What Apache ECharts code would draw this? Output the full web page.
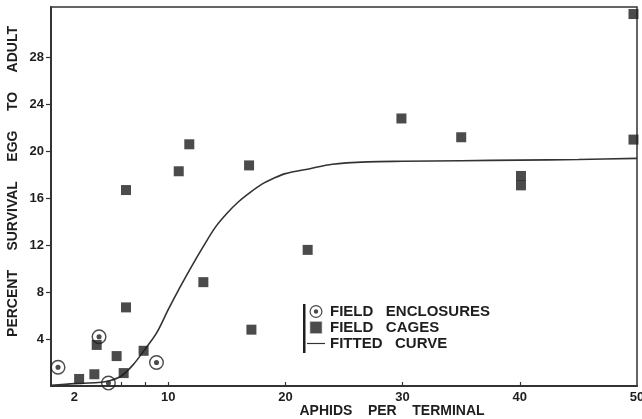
<!DOCTYPE html>
<html>
<head>
<meta charset="utf-8">
<script src="https://cdn.jsdelivr.net/npm/echarts/dist/echarts.min.js"></script>
<style>
  html, body { margin: 0; padding: 0; background: #fff; }
  #chart { width: 642px; height: 419px; }
</style>
</head>
<body>
<div id="chart"></div>
<script>
// Field cages (squares)
const cagesX = [2.4, 3.7, 3.9, 5.6, 6.2, 6.4, 6.4, 7.9, 10.9, 11.8, 13.0, 16.9, 17.1, 21.9, 29.9, 35.0, 40.1, 40.1, 49.7, 49.7];
const cagesY = [0.6, 1.0, 3.5, 2.55, 1.1, 6.7, 16.7, 3.0, 18.3, 20.6, 8.85, 18.8, 4.8, 11.6, 22.8, 21.2, 17.9, 17.1, 31.7, 21.0];

// Field enclosures (ringed dots)
const enclosuresX = [0.6, 4.1, 4.9, 9.0];
const enclosuresY = [1.6, 4.2, 0.25, 2.0];

// Fitted curve
const curveX = [0, 2, 4, 5, 6, 7, 8, 9, 10, 11, 12, 13, 14, 15, 16, 17, 18, 19, 20, 22, 24, 27, 30, 35, 40, 45, 50];
const curveY = [0.05, 0.2, 0.3, 0.45, 0.85, 1.8, 3.1, 4.5, 6.5, 8.4, 10.2, 11.9, 13.5, 14.7, 15.7, 16.5, 17.2, 17.7, 18.1, 18.5, 18.9, 19.1, 19.15, 19.2, 19.25, 19.3, 19.4];

// Ticks and labels
const xLabels = [2, 10, 20, 30, 40, 50];
const xTicks = [6, 8, 10, 20, 30, 40];
const yLabels = [4, 8, 12, 16, 20, 24, 28];

window.onload = function () {
    const ink = '#1e1e1e';
    const font = 'Liberation Sans';

    // ring with a dot in the middle
    const ringDot = 'path://M10,0A10,10,0,1,1,10,20A10,10,0,1,1,10,0Z' +
        'M10,1.9A8.1,8.1,0,1,0,10,18.1A8.1,8.1,0,1,0,10,1.9Z' +
        'M10,6.6A3.4,3.4,0,1,1,10,13.4A3.4,3.4,0,1,1,10,6.6Z';

    const chart = echarts.init(document.getElementById('chart'));
    const option = {
        animation: false,
        backgroundColor: '#fff',
        grid: {
            left: 51, right: 5, top: 7, bottom: 33,
            outerBoundsMode: 'none',
            containLabel: false,
            show: true,
            borderColor: '#333',
            borderWidth: 1.5
        },
        legend: {
            orient: 'vertical',
            left: 307,
            top: 304,
            padding: 0,
            itemGap: 1,
            itemWidth: 18,
            itemHeight: 13,
            textStyle: { fontFamily: font, fontWeight: 'bold', fontSize: 15, color: ink },
            data: [
                { name: 'FIELD   ENCLOSURES', icon: ringDot },
                { name: 'FIELD   CAGES', icon: 'path://M0,0H10V10H0Z', itemStyle: { borderColor: '#fff', borderWidth: 1.5 } },
                { name: 'FITTED   CURVE', icon: 'path://M0,0H20V1.3H0Z' }
            ]
        },
        graphic: [
            {
                type: 'rect',
                left: 303,
                top: 304,
                shape: { width: 2.5, height: 49 },
                style: { fill: ink }
            }
        ],
        xAxis: {
            type: 'value',
            min: 0,
            max: 50,
            name: 'APHIDS    PER    TERMINAL',
            nameLocation: 'middle',
            nameGap: 18,
            nameMoveOverlap: false,
            nameTextStyle: { fontFamily: font, fontWeight: 'bold', fontSize: 14, color: ink, padding: [0, 0, 0, 96] },
            axisLine: { lineStyle: { color: '#333', width: 2 } },
            axisTick: { inside: true, length: 4, customValues: xTicks, lineStyle: { color: '#333', width: 1.2 } },
            axisLabel: { customValues: xLabels, margin: 5, fontFamily: font, fontWeight: 'bold', fontSize: 13, color: ink },
            splitLine: { show: false }
        },
        yAxis: {
            type: 'value',
            min: 0,
            max: 32.3,
            name: 'PERCENT     SURVIVAL     EGG     TO     ADULT',
            nameLocation: 'middle',
            nameGap: 31,
            nameMoveOverlap: false,
            nameTextStyle: { fontFamily: font, fontWeight: 'bold', fontSize: 14, color: ink, padding: [0, 0, 0, 30] },
            axisLine: { lineStyle: { color: '#333', width: 2 } },
            axisTick: { length: 5, customValues: yLabels, lineStyle: { color: '#333', width: 1.2 } },
            axisLabel: { customValues: yLabels, margin: 7, fontFamily: font, fontWeight: 'bold', fontSize: 13, color: ink },
            splitLine: { show: false }
        },
        series: [
            {
                name: 'FITTED   CURVE',
                type: 'line',
                data: curveX.map((x, i) => [x, curveY[i]]),
                smooth: 0.3,
                showSymbol: false,
                color: '#333',
                lineStyle: { color: '#333', width: 1.6 },
                z: 1
            },
            {
                name: 'FIELD   CAGES',
                type: 'scatter',
                data: cagesX.map((x, i) => [x, cagesY[i]]),
                symbol: 'rect',
                symbolSize: 10,
                itemStyle: { color: ink },
                z: 2
            },
            {
                name: 'FIELD   ENCLOSURES',
                type: 'scatter',
                data: enclosuresX.map((x, i) => [x, enclosuresY[i]]),
                symbol: ringDot,
                symbolSize: 15,
                itemStyle: { color: ink },
                z: 3
            }
        ]
    };
    chart.setOption(option);
};
</script>
</body>
</html>
